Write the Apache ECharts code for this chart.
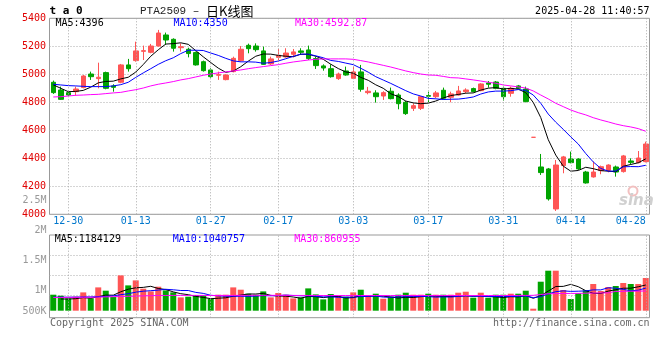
<!DOCTYPE html>
<html><head><meta charset="utf-8">
<script src="https://cdn.jsdelivr.net/npm/echarts@6/dist/echarts.min.js"></script>
<style>html,body{margin:0;padding:0;background:#fff}#c{width:660px;height:360px}</style>
</head><body><div id="c"></div>
<script>
// ---- data ----
const dates = ['12-26','12-27','12-30','12-31','01-02','01-03','01-06','01-07','01-08','01-09','01-10','01-13','01-14','01-15','01-16','01-17','01-20','01-21','01-22','01-23','01-24','01-27','02-05','02-06','02-07','02-10','02-11','02-12','02-13','02-14','02-17','02-18','02-19','02-20','02-21','02-24','02-25','02-26','02-27','02-28','03-03','03-04','03-05','03-06','03-07','03-10','03-11','03-12','03-13','03-14','03-17','03-18','03-19','03-20','03-21','03-24','03-25','03-26','03-27','03-28','03-31','04-01','04-02','04-03','04-07','04-08','04-09','04-10','04-11','04-14','04-15','04-16','04-17','04-18','04-21','04-22','04-23','04-24','04-25','04-28'];
const tickDates = ['12-30','01-13','01-27','02-17','03-03','03-17','03-31','04-14','04-28'];

const opens = [4943,4888,4869,4876,4905,5002,4969,5012,4917,4943, 5067,5098,5164,5157,5202,5281,5250,5190,5179,5155, 5090,5031,4993,4962,5019,5098,5207,5202,5167,5074, 5121,5124,5143,5167,5174,5112,5060,5040,4969,5024, 4971,5017,4869,4867,4845,4879,4852,4800,4757,4757, 4848,4840,4886,4836,4852,4876,4898,4883,4938,4945, 4900,4864,4917,4895,4550,4338,4324,4038,4348,4395, 4395,4302,4267,4312,4314,4338,4305,4381,4369,4376];
const closes = [4869,4821,4852,4895,4988,4983,4979,4900,4907,5067, 5040,5167,5169,5202,5295,5245,5186,5197,5148,5067, 5026,4983,4998,4995,5114,5179,5183,5176,5071,5110, 5136,5152,5160,5157,5112,5062,5045,4983,5002,4995, 5017,4893,4879,4840,4869,4826,4790,4719,4776,4840, 4843,4867,4829,4860,4881,4888,4876,4931,4929,4900, 4840,4900,4900,4805,4550,4298,4110,4352,4410,4369, 4324,4224,4302,4340,4352,4302,4417,4371,4402,4502];
const lows = [4860,4817,4845,4848,4900,4960,4900,4893,4876,4936, 5019,5090,5102,5150,5198,5210,5162,5162,5121,5062, 5019,4976,4960,4957,5014,5090,5150,5162,5067,5067, 5090,5119,5121,5138,5102,5038,5026,4976,4960,4990, 4967,4876,4857,4798,4817,4821,4750,4710,4738,4745, 4793,4829,4819,4800,4848,4864,4871,4879,4905,4893, 4812,4840,4895,4800,4550,4281,4098,4024,4293,4364, 4317,4219,4262,4286,4300,4269,4298,4357,4364,4371];
const highs = [4955,4912,4872,4912,4995,5019,5083,5019,4929,5074, 5110,5233,5205,5217,5317,5298,5257,5221,5190,5162, 5098,5043,5019,5000,5126,5202,5219,5221,5198,5126, 5181,5186,5181,5186,5205,5126,5071,5071,5012,5055, 5055,5067,4910,4886,4879,4905,4864,4810,4793,4845, 4876,4881,4905,4876,4917,4900,4905,4936,4952,4952, 4912,4912,4924,4912,4550,4431,4331,4388,4417,4448, 4400,4310,4376,4348,4357,4348,4424,4400,4452,4519];

const ma5 = [4925,4900,4876,4878,4885,4908,4939,4949,4951,4967, 4979,5016,5070,5129,5175,5216,5219,5225,5214,5169, 5125,5084,5044,5014,5023,5054,5094,5129,5145,5144, 5135,5129,5126,5143,5143,5129,5107,5072,5041,5017, 5008,4978,4957,4925,4900,4861,4841,4809,4796,4790, 4794,4809,4831,4848,4856,4865,4867,4887,4901,4905, 4895,4900,4894,4869,4799,4691,4533,4423,4344,4308, 4313,4336,4326,4312,4308,4304,4343,4356,4368,4396];
const ma10 = [4929,4924,4919,4917,4914,4912,4912,4912,4917,4926, 4943,4978,5010,5040,5071,5097,5118,5148,5172,5172, 5170,5152,5135,5114,5096,5089,5089,5087,5079,5084, 5095,5111,5128,5144,5144,5132,5118,5099,5092,5080, 5069,5043,5015,4983,4959,4935,4909,4883,4860,4845, 4828,4825,4820,4822,4823,4829,4838,4859,4874,4880, 4880,4883,4891,4885,4852,4793,4716,4658,4607,4553, 4502,4434,4374,4328,4308,4309,4339,4341,4340,4350];
const ma30 = [4838,4840,4845,4850,4852,4855,4857,4862,4867,4871, 4881,4890,4902,4917,4929,4938,4948,4960,4969,4981, 4993,5002,5010,5017,5024,5031,5040,5048,5055,5062, 5069,5079,5088,5095,5102,5107,5110,5110,5110,5110, 5107,5098,5088,5076,5064,5052,5038,5024,5012,5002, 4995,4993,4985,4976,4974,4967,4960,4952,4943,4936, 4924,4917,4910,4902,4881,4852,4824,4793,4769,4745, 4726,4710,4690,4674,4660,4645,4633,4624,4612,4593];

const volumes = [672000,630000,517000,588000,769000,517000,979000,840000,575000,1483000, 1063000,1273000,924000,811000,1008000,853000,769000,559000,588000,659000, 643000,491000,672000,672000,979000,882000,714000,672000,811000,559000, 743000,672000,517000,559000,937000,685000,475000,701000,630000,588000, 769000,882000,601000,714000,504000,588000,672000,756000,672000,672000, 714000,672000,672000,672000,756000,798000,546000,756000,546000,672000, 672000,714000,714000,840000,84000,1218000,1680000,1680000,869000,491000, 731000,857000,1121000,827000,995000,1037000,1163000,1121000,1121000,1373000];
const volMa5 = [null,491000,491000,504000,550000,521000,588000,655000,651000,794000, 903000,962000,979000,1025000,932000,890000,790000,714000,672000,601000, 559000,504000,525000,542000,609000,655000,701000,701000,727000,643000, 617000,609000,575000,525000,601000,588000,550000,588000,601000,533000, 550000,630000,609000,626000,609000,575000,533000,563000,554000,588000, 613000,613000,596000,596000,613000,630000,605000,622000,596000,580000, 554000,588000,580000,638000,521000,630000,823000,1016000,1021000,1105000, 1008000,840000,731000,722000,823000,882000,945000,945000,1004000,1079000];
const volMa10 = [567000,567000,567000,571000,575000,580000,588000,601000,622000,672000, 714000,777000,819000,840000,865000,899000,878000,848000,848000,769000, 727000,647000,622000,609000,605000,609000,601000,613000,634000,626000, 634000,655000,638000,626000,622000,605000,580000,584000,563000,567000, 571000,592000,601000,613000,571000,563000,580000,588000,592000,601000, 592000,571000,580000,575000,601000,622000,609000,609000,596000,596000, 592000,596000,601000,617000,550000,592000,706000,798000,832000,811000, 819000,832000,874000,874000,962000,945000,895000,836000,861000,949000];
const volMa30 = [555000,557000,559000,561000,563000,567000,571000,580000,588000,596000, 605000,613000,622000,630000,638000,640000,642000,643000,643000,643000, 642000,640000,640000,640000,642000,643000,645000,645000,646000,645000, 645000,644000,642000,640000,640000,640000,638000,638000,637000,637000, 637000,638000,638000,638000,637000,636000,636000,636000,636000,636000, 636000,636000,636000,636000,637000,638000,638000,638000,638000,638000, 638000,640000,640000,642000,645000,680000,710000,718000,722000,725000, 728000,735000,740000,745000,750000,810000,815000,818000,822000,827000];

const priceMaLabels = ['MA5:4396','MA10:4350','MA30:4592.87'];
const volMaLabels = ['MA5:1184129','MA10:1040757','MA30:860955'];
const volTickLabels = ['2.5M','2M','1.5M','1M','500K'];
const titleText = 'PTA2509 – ';
const titleCn = '日K线图';
const codeText = 't a 0';
const timeText = '2025-04-28 11:40:57';
const copyText = 'Copyright 2025 SINA.COM';
const urlText = 'http://finance.sina.com.cn';

// ---- style / layout ----
const UP = '#ff5555', DOWN = '#00a400';
const MA_COLORS = ['#000000', '#0000ff', '#ff00ff'];
const MONO = '"DejaVu Sans Mono", monospace';
const GRID_L = 49.5, GRID_R = 10.5;
const volTickY = [200, 230.7, 260, 290.7, 311];
const maX = [55.5, 173.5, 295];

const chart = echarts.init(document.getElementById('c'), null, {renderer: 'canvas'});

const candleData = dates.map((d, i) => {
  const v = [opens[i], closes[i], lows[i], highs[i]];
  if (opens[i] === closes[i]) {
    return {value: v, itemStyle: {color: UP, color0: UP, borderColor: UP, borderColor0: UP}};
  }
  return v;
});
const volData = volumes.map((v, i) => ({value: v, itemStyle: {color: closes[i] >= opens[i] ? UP : DOWN}}));

const vMark = () => ({
  symbol: ['none', 'none'], silent: true, animation: false,
  label: {show: false},
  lineStyle: {color: '#aaaaaa', type: [1, 2], width: 1},
  data: tickDates.map(d => ({xAxis: d}))
});

function maLine(data, color, xi, yi) {
  return {type: 'line', data: data, xAxisIndex: xi, yAxisIndex: yi, symbol: 'none', showSymbol: false,
    lineStyle: {color: color, width: 1}, itemStyle: {color: color}, silent: true, z: 3};
}

const txt = (text, x, y, fill, font, align) => ({
  type: 'text', x: x, y: y, silent: true, z: 100,
  style: {text: text, fill: fill, font: font, align: align || 'left', verticalAlign: 'middle',
    textAlign: align || 'left', textVerticalAlign: 'middle'}
});

const graphics = [
  txt(codeText, 49.5, 11.5, '#000', 'bold 11px ' + MONO),
  {type: 'text', x: 140, y: 11.5, silent: true, z: 100,
    style: {text: '{a|' + titleText + '}{b|' + titleCn + '}', verticalAlign: 'middle', textVerticalAlign: 'middle',
      rich: {a: {font: '11px "Liberation Mono", monospace', fill: '#222', color: '#222'},
             b: {font: '13px "Noto Sans CJK SC"', fill: '#000', color: '#000'}}}},
  txt(timeText, 649.5, 11.5, '#000', '10px ' + MONO, 'right'),
  txt(copyText, 50, 323.3, '#666', '10px ' + MONO),
  txt(urlText, 649.5, 323.3, '#666', '10px ' + MONO, 'right'),
  txt('sina', 619, 201, '#d0d0d0', 'italic bold 15px "DejaVu Sans"'),
  {type: 'circle', shape: {cx: 633, cy: 191, r: 4.5}, silent: true, z: 99,
    style: {fill: 'none', stroke: '#f2c0c0', lineWidth: 2}}
];
priceMaLabels.forEach((t, i) => graphics.push(txt(t, maX[i], 23.5, MA_COLORS[i], '10px ' + MONO)));
volMaLabels.forEach((t, i) => graphics.push(txt(t, maX[i] - 0.8, 239.5, MA_COLORS[i], '10px ' + MONO)));
volTickLabels.forEach((t, i) => graphics.push(txt(t, 46.5, volTickY[i], '#999', '10px ' + MONO, 'right')));

const option = {
  animation: false,
  backgroundColor: '#fff',
  grid: [
    {left: GRID_L, right: GRID_R, top: 18.3, height: 196, show: true, borderColor: '#999', borderWidth: 1},
    {left: GRID_L, right: GRID_R, top: 235, height: 82.7, show: true, borderColor: '#999', borderWidth: 1}
  ],
  xAxis: [
    {type: 'category', gridIndex: 0, data: dates, boundaryGap: true,
      axisLine: {show: false}, axisTick: {show: false}, splitLine: {show: false},
      axisLabel: {interval: (i, v) => tickDates.includes(v), color: '#0077cc', fontFamily: MONO, fontSize: 10,
        margin: 2, alignMaxLabel: 'right'}},
    {type: 'category', gridIndex: 1, data: dates, boundaryGap: true,
      axisLine: {show: false}, axisTick: {show: false}, axisLabel: {show: false}, splitLine: {show: false}}
  ],
  yAxis: [
    {type: 'value', gridIndex: 0, min: 4000, max: 5400, interval: 200,
      axisLine: {show: false}, axisTick: {show: false},
      splitLine: {lineStyle: {color: '#aaaaaa', type: [1, 2]}},
      axisLabel: {color: '#e00000', fontFamily: MONO, fontSize: 10, margin: 3.5, padding: [0, 0, 5, 0],
        formatter: v => String(v)}},
    {type: 'value', gridIndex: 1, min: -294000, max: 3179400,
      axisLine: {show: false}, axisTick: {show: false}, axisLabel: {show: false}, splitLine: {show: false}},
    {type: 'value', gridIndex: 1, min: 0, max: 82.7, interval: 20, inverse: true,
      axisLine: {show: false}, axisTick: {show: false}, axisLabel: {show: false},
      splitLine: {lineStyle: {color: ['transparent', '#aaaaaa', '#aaaaaa', '#aaaaaa', 'transparent', 'transparent'], type: [1, 2]}}}
  ],
  series: [
    {type: 'candlestick', xAxisIndex: 0, yAxisIndex: 0, data: candleData, barWidth: 5,
      itemStyle: {color: UP, color0: DOWN, borderColor: UP, borderColor0: DOWN, borderWidth: 1},
      markLine: vMark(), silent: true},
    maLine(ma5, MA_COLORS[0], 0, 0),
    maLine(ma10, MA_COLORS[1], 0, 0),
    maLine(ma30, MA_COLORS[2], 0, 0),
    {type: 'bar', xAxisIndex: 1, yAxisIndex: 1, data: volData, barWidth: 6, silent: true, markLine: vMark()},
    maLine(volMa5, MA_COLORS[0], 1, 1),
    maLine(volMa10, MA_COLORS[1], 1, 1),
    maLine(volMa30, MA_COLORS[2], 1, 1)
  ],
  graphic: graphics
};
chart.setOption(option);
</script>
</body></html>
